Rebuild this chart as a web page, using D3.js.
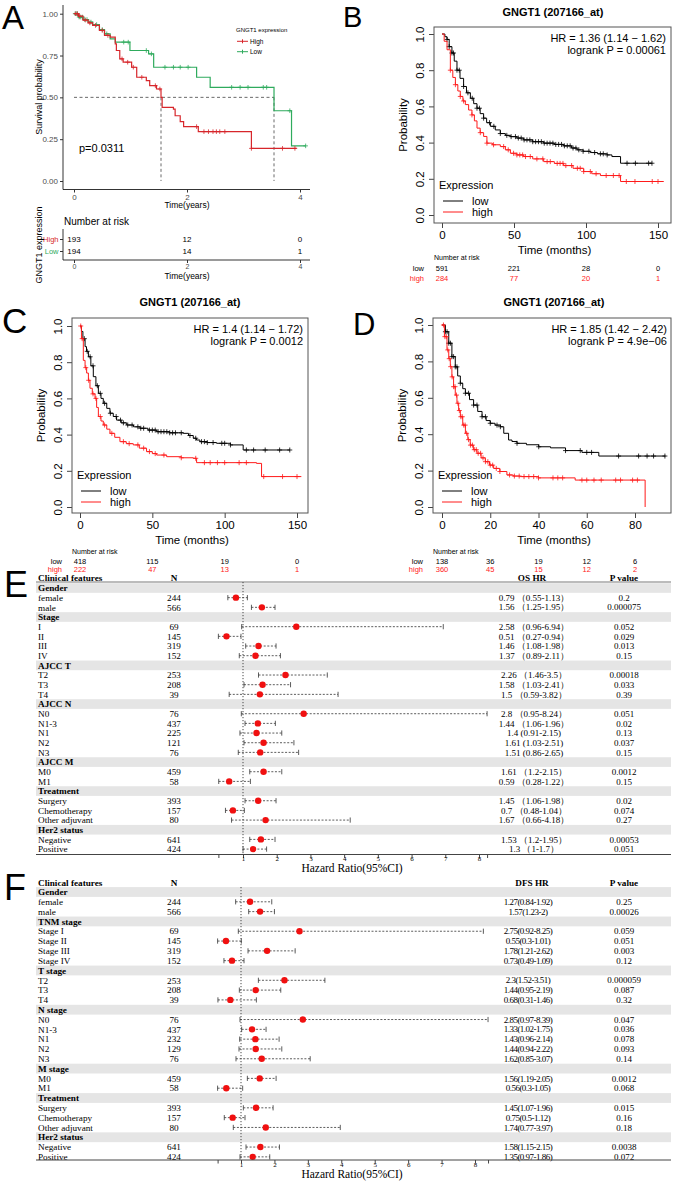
<!DOCTYPE html>
<html><head><meta charset="utf-8">
<script src="https://cdn.jsdelivr.net/npm/d3@7/dist/d3.min.js"></script>
<style>html,body{margin:0;padding:0;background:#fff;}svg{display:block;}</style>
</head><body>
<svg id="chart" width="674" height="1181" xmlns="http://www.w3.org/2000/svg"></svg>
<script>
const SANS = "'Liberation Sans', Arial, Helvetica, sans-serif";
const SERIF = "'Liberation Serif', 'Times New Roman', Times, serif";

// ===== Panel A data (years) =====
const aTicksX = [0, 2, 4];
const aTicksY = [0, 0.25, 0.5, 0.75, 1];
const aHighTime = [0,0.08,0.16,0.25,0.33,0.45,0.54,0.64,0.73,0.75,0.81,0.87,1.02,1.11,1.28,1.34,1.46,1.54,1.56,1.76,1.79,1.88,1.94,2.2,3.14];
const aHighSurv = [1,0.985,0.962,0.945,0.93,0.9,0.87,0.86,0.82,0.78,0.73,0.71,0.68,0.62,0.60,0.57,0.55,0.50,0.44,0.43,0.39,0.355,0.325,0.295,0.195];
const aHighEnd = 3.94;
const aHighCens = [0.03,0.06,0.1,0.2,0.28,0.38,0.5,0.6,0.85,0.95,1.05,1.2,1.44,1.52,2.17,2.3,2.38,2.46,2.52,2.58,2.67,3.14,3.69,3.91];
const aLowTime = [0,0.08,0.16,0.25,0.33,0.45,0.54,0.64,0.73,0.99,1.32,1.41,2.17,2.41,3.54,3.85];
const aLowSurv = [1,0.98,0.965,0.95,0.935,0.905,0.88,0.85,0.83,0.78,0.76,0.68,0.62,0.56,0.42,0.21];
const aLowEnd = 4.1;
const aLowCens = [0.02,0.04,0.06,0.09,0.12,0.15,0.19,0.23,0.3,0.4,0.5,0.58,0.88,0.96,1.28,1.37,1.61,1.76,1.88,2.02,2.79,2.94,3.08,3.35,3.41,3.82,4.1];
const aMedian = [1.54, 3.54];
const aGroups = ["High", "Low"];
const aRiskHigh = [193, 12, 0];
const aRiskLow = [194, 14, 1];
const aPText = "p=0.0311";

// ===== Panel B data (months) =====
const bTicksX = [0, 50, 100, 150];
const bLowTime = [0,2,3.5,5,6.9,8.5,10.4,12.5,15,17,19.7,22,24.3,26.5,28.9,31,33.6,37,40.5,44,47.5,52,56.7,63,70.6,78,84.5,90,93.8,98,103,108,114.7,118,124];
const bLowSurv = [1,0.985,0.97,0.93,0.895,0.85,0.80,0.755,0.71,0.675,0.645,0.615,0.59,0.56,0.535,0.51,0.49,0.47,0.45,0.44,0.433,0.425,0.415,0.405,0.397,0.39,0.382,0.37,0.36,0.352,0.345,0.338,0.332,0.323,0.286];
const bLowEnd = 146;
const bLowCens = [3.5,5,6.9,8,10.4,12,15,18,21,24.3,26,28.9,33,36,40.5,45,48,51,53,55,57,59,61,63,65,67,69,71,73,75,77,79,81,83,85,87,89,91,93,95,98,102,106,110,112,114.7,128.5,134.3,143.5,145.8];
const bHighTime = [0,1.5,3.5,5.8,7.5,9.3,11,12.7,14.5,16.2,18.5,20.8,22.5,24.3,26.5,28.9,31.2,35,40.5,44,47.5,52,56.7,63,70.6,78,84.5,91,98.4,104,110,124];
const bHighSurv = [1,0.96,0.913,0.80,0.76,0.72,0.685,0.655,0.63,0.61,0.58,0.553,0.52,0.48,0.455,0.434,0.397,0.388,0.378,0.36,0.341,0.332,0.323,0.31,0.295,0.285,0.273,0.258,0.24,0.228,0.218,0.185];
const bHighEnd = 154;
const bHighCens = [5.8,9.3,12.7,15,20.8,26.6,31.2,35.8,42.8,46,49.7,52,54,56,58,61.3,65.9,70,73,75.2,80,82,84,86,90,94,96,98.4,103,107,114,119,123,128,134,146,150];
const bRiskLow = [591, 221, 28, 0];
const bRiskHigh = [284, 77, 20, 1];
const bStats = ["HR = 1.36 (1.14 \u2212 1.62)", "logrank P = 0.00061"];

// ===== Panel C data (months) =====
const cTicksX = [0, 50, 100, 150];
const cLowTime = [0,1,2,3.5,4.5,5.8,7.5,9.2,11,12.7,14.5,16.1,18.5,20.7,23,25.3,28.5,32.3,37,41.5,47,53,62,71.4,75,78.3,80.5,82.9,88,94.4,104,112.8];
const cLowSurv = [1,0.97,0.93,0.886,0.86,0.83,0.78,0.72,0.67,0.628,0.60,0.573,0.545,0.518,0.5,0.48,0.465,0.453,0.443,0.435,0.425,0.416,0.41,0.407,0.395,0.38,0.37,0.361,0.356,0.352,0.343,0.315];
const cLowEnd = 145;
const cLowCens = [3,5,7,9,12,14,17,21,25,28,30,33,36,40,42,44,48,50,52,54,56,58,60,62,64,66,70,76,80,84,86,88,92,98,100,104,115,120,128,138,145];
const cHighTime = [0,1,2.3,3.5,4.6,5.8,6.9,8.5,10.4,11.5,12.7,14.5,16.1,18.5,20.7,24,27.6,32,36.8,41,46,50,53,59.9,70,78.3,80.6,122,125.5];
const cHighSurv = [1,0.93,0.81,0.77,0.74,0.70,0.656,0.625,0.60,0.55,0.50,0.475,0.453,0.43,0.407,0.385,0.361,0.35,0.343,0.325,0.306,0.295,0.287,0.278,0.272,0.269,0.245,0.241,0.168];
const cHighEnd = 153;
const cHighCens = [0.5,1.5,4,6,9,11,14,17,22,30,34,40,44,48,52,58,70,80,86,90,95,100,110,115,127,140,150];
const cRiskLow = [418, 115, 19, 0];
const cRiskHigh = [222, 47, 13, 1];
const cStats = ["HR = 1.4 (1.14 \u2212 1.72)", "logrank P = 0.0012"];

// ===== Panel D data (months) =====
const dTicksX = [0, 20, 40, 60, 80];
const dLowTime = [0,1.4,2.8,4.1,5.5,6.5,7.6,8.6,9.7,11.4,13.1,14.8,16.6,18.3,20,22,24.2,25.6,27.6,29,31.1,35,40.1,45,51.2,58,65];
const dLowSurv = [1,0.963,0.90,0.826,0.77,0.72,0.68,0.65,0.625,0.59,0.56,0.525,0.496,0.475,0.46,0.45,0.441,0.405,0.368,0.36,0.35,0.342,0.331,0.325,0.31,0.30,0.28];
const dLowEnd = 92.6;
const dLowCens = [1.4,2.1,2.8,3.5,4.1,4.8,5.5,6.2,7.6,9.7,11,13.1,14.5,16.6,18,20,22.8,24.2,31.1,40.1,51.2,57.3,60,62,73.2,81.5,85,87.7,92.4];
const dHighTime = [0,1,2.07,2.8,3.45,4.1,4.8,5.5,6.2,6.9,7.6,8.6,9.7,10.7,11.7,13,14.5,16.2,17.96,19.7,21.4,24,26.9,29.5,32.4,40,55.2,84.2];
const dHighSurv = [1,0.936,0.863,0.815,0.771,0.715,0.661,0.615,0.57,0.53,0.496,0.45,0.405,0.37,0.34,0.315,0.295,0.27,0.249,0.23,0.212,0.195,0.176,0.17,0.167,0.16,0.148,0];
const dHighEnd = 84.2;
const dHighCens = [0.6,1.2,1.8,2.4,3,3.6,4.2,4.8,5.4,6,6.6,7.2,7.8,8.4,9,9.6,10.2,11,11.8,12.6,13.4,14.2,15,16,17,18,19,20,21,22.5,24,28,30,32,34,36,38,40,46,48,50,58,60,63,66,72,74,79,81];
const dRiskLow = [138, 36, 19, 12, 6];
const dRiskHigh = [360, 45, 15, 12, 2];
const dStats = ["HR = 1.85 (1.42 \u2212 2.42)", "logrank P = 4.9e\u221206"];

// ===== Panel E data (OS) =====
const eLabels = ["Gender","female","male","Stage","I","II","III","IV","AJCC T","T2","T3","T4","AJCC N","N0","N1-3","N1","N2","N3","AJCC M","M0","M1","Treatment","Surgery","Chemotherapy","Other adjuvant","Her2 status","Negative","Positive"];
const eN  = [null,244,566,null,69,145,319,152,null,253,208,39,null,76,437,225,121,76,null,459,58,null,393,157,80,null,641,424];
const eHR = [null,0.79,1.56,null,2.58,0.51,1.46,1.37,null,2.26,1.58,1.5,null,2.8,1.44,1.4,1.61,1.51,null,1.61,0.59,null,1.45,0.7,1.67,null,1.53,1.3];
const eLo = [null,0.55,1.25,null,0.96,0.27,1.08,0.89,null,1.46,1.03,0.59,null,0.95,1.06,0.91,1.03,0.86,null,1.2,0.28,null,1.06,0.48,0.66,null,1.2,1];
const eHi = [null,1.13,1.95,null,6.94,0.94,1.98,2.11,null,3.5,2.41,3.82,null,8.24,1.96,2.15,2.51,2.65,null,2.15,1.22,null,1.98,1.04,4.18,null,1.95,1.7];
const eP  = [null,"0.2","0.000075",null,"0.052","0.029","0.013","0.15",null,"0.00018","0.033","0.39",null,"0.051","0.02","0.13","0.037","0.15",null,"0.0012","0.15",null,"0.02","0.074","0.27",null,"0.00053","0.051"];
const eAsciiRows = ["N1","N2","N3"];
const eHeaders = ["Clinical features","N","OS HR","P value"];

// ===== Panel F data (DFS) =====
const fLabels = ["Gender","female","male","TNM stage","Stage I","Stage II","Stage III","Stage IV","T stage","T2","T3","T4","N stage","N0","N1-3","N1","N2","N3","M stage","M0","M1","Treatment","Surgery","Chemotherapy","Other adjuvant","Her2 status","Negative","Positive"];
const fN  = [null,244,566,null,69,145,319,152,null,253,208,39,null,76,437,232,129,76,null,459,58,null,393,157,80,null,641,424];
const fHR = [null,1.27,1.57,null,2.75,0.55,1.78,0.73,null,2.3,1.44,0.68,null,2.85,1.33,1.43,1.44,1.62,null,1.56,0.56,null,1.45,0.75,1.74,null,1.58,1.35];
const fLo = [null,0.84,1.23,null,0.92,0.3,1.21,0.49,null,1.52,0.95,0.31,null,0.97,1.02,0.96,0.94,0.85,null,1.19,0.3,null,1.07,0.5,0.77,null,1.15,0.97];
const fHi = [null,1.92,2,null,8.25,1.01,2.62,1.09,null,3.51,2.19,1.46,null,8.39,1.75,2.14,2.22,3.07,null,2.05,1.05,null,1.96,1.12,3.97,null,2.15,1.86];
const fP  = [null,"0.25","0.00026",null,"0.059","0.051","0.003","0.12",null,"0.000059","0.087","0.32",null,"0.047","0.036","0.078","0.093","0.14",null,"0.0012","0.068",null,"0.015","0.16","0.18",null,"0.0038","0.072"];
const fHeaders = ["Clinical features","N","DFS HR","P value"];
const forestTicks = [1,2,3,4,5,6,7,8];

// ================= helpers =================
const svg = d3.select("#chart");
svg.append("rect").attr("width",674).attr("height",1181).attr("fill","#fff");

function text(g, x, y, s, o = {}) {
  return g.append("text").attr("x", x).attr("y", y).text(s)
    .attr("font-family", o.ff || SANS).attr("font-size", o.fs || 10)
    .attr("font-weight", o.fw || "normal").attr("fill", o.fill || "#000")
    .attr("text-anchor", o.anchor || "start")
    .attr("dy", o.dy === undefined ? "0.35em" : o.dy)
    .attr("letter-spacing", o.ls || null);
}
function stepPts(times, surv, end) {
  const p = times.map((t, i) => [t, surv[i]]);
  p.push([end, surv[surv.length - 1]]);
  return p;
}
function survAt(times, surv, t) {
  let s = surv[0];
  for (let i = 0; i < times.length; i++) if (times[i] <= t) s = surv[i];
  return s;
}
function drawCurve(g, x, y, times, surv, end, cens, color, lw, ms) {
  const line = d3.line().x(d => x(d[0])).y(d => y(d[1])).curve(d3.curveStepAfter);
  g.append("path").attr("d", line(stepPts(times, surv, end))).attr("fill", "none")
    .attr("stroke", color).attr("stroke-width", lw);
  g.append("path").attr("d", cens.map(t => {
      const cx = x(t), cy = y(survAt(times, surv, t));
      return `M${cx - ms},${cy}H${cx + ms}M${cx},${cy - ms}V${cy + ms}`;
    }).join("")).attr("stroke", color).attr("stroke-width", 0.8).attr("fill", "none");
}

// ================= Panel A =================
(function () {
  const RED = "#d7262b", GREEN = "#2fab5d";
  const g = svg.append("g");
  text(g, 2, 29, "A", { fs: 33, dy: 0 });
  const x = d3.scaleLinear().domain([0, 4]).range([74, 300]);
  const y = d3.scaleLinear().domain([0, 1]).range([181, 13.7]);

  const gy = g.append("g").attr("transform", "translate(63,0)")
    .call(d3.axisLeft(y).tickValues(aTicksY).tickFormat(d3.format(".2f")).tickSize(3).tickPadding(2));
  gy.select(".domain").attr("d", "M0,5V189.5").attr("stroke", "#000").attr("stroke-width", 0.8);
  gy.selectAll(".tick line").attr("stroke", "#333");
  gy.selectAll(".tick text").attr("font-size", 8).attr("fill", "#4d4d4d").attr("font-family", SANS);

  const gx = g.append("g").attr("transform", "translate(0,189.5)")
    .call(d3.axisBottom(x).tickValues(aTicksX).tickFormat(d3.format("d")).tickSize(3).tickPadding(1.5));
  gx.select(".domain").attr("d", "M63,0H310").attr("stroke", "#000").attr("stroke-width", 0.8);
  gx.selectAll(".tick line").attr("stroke", "#333");
  gx.selectAll(".tick text").attr("font-size", 8).attr("fill", "#4d4d4d").attr("font-family", SANS);

  text(g, 187, 205, "Time(years)", { fs: 8.5, anchor: "middle" });
  g.append("text").attr("transform", "translate(39,97) rotate(-90)").attr("text-anchor", "middle")
    .attr("dy", "0.35em").attr("font-family", SANS).attr("font-size", 9).text("Survival probability");

  // median lines
  const dash = g.append("g").attr("stroke", "#444").attr("stroke-width", 0.8).attr("stroke-dasharray", "3,2.5").attr("fill", "none");
  dash.append("path").attr("d", `M${x(0)},${y(0.5)}H${x(d3.max(aMedian))}`);
  aMedian.forEach(m => dash.append("path").attr("d", `M${x(m)},${y(0.5)}V${y(0)}`));

  drawCurve(g, x, y, aLowTime, aLowSurv, aLowEnd, aLowCens, GREEN, 1.2, 2.3);
  drawCurve(g, x, y, aHighTime, aHighSurv, aHighEnd, aHighCens, RED, 1.2, 2.3);

  text(g, 79, 148, aPText, { fs: 11 });

  // legend
  text(g, 236, 29.5, "GNGT1 expression", { fs: 6 });
  [[aGroups[0], RED, 41.3], [aGroups[1], GREEN, 51.7]].forEach(([lab, col, ly]) => {
    g.append("path").attr("d", `M237,${ly}H248M242.5,${ly - 2}V${ly + 2}`).attr("stroke", col).attr("stroke-width", 1);
    text(g, 250, ly, lab, { fs: 6.5 });
  });

  // risk table
  text(g, 64, 221, "Number at risk", { fs: 10 });
  const ry = d3.scalePoint().domain(aGroups).range([239, 251]);
  const rcol = { High: RED, Low: GREEN };
  const rg = g.append("g").attr("transform", "translate(63,0)").call(d3.axisLeft(ry).tickSize(3).tickPadding(1.5));
  rg.select(".domain").attr("d", "M0,229V260").attr("stroke", "#000").attr("stroke-width", 0.8);
  rg.selectAll(".tick line").attr("stroke", "#333");
  rg.selectAll(".tick text").attr("font-size", 7.5).attr("font-family", SANS).attr("fill", d => rcol[d]);
  [[aRiskHigh, "High"], [aRiskLow, "Low"]].forEach(([vals, key]) => {
    vals.forEach((v, i) => text(g, x(aTicksX[i]), ry(key), v, { fs: 8, anchor: "middle" }));
  });
  const rx = g.append("g").attr("transform", "translate(0,260)")
    .call(d3.axisBottom(x).tickValues(aTicksX).tickFormat(d3.format("d")).tickSize(3).tickPadding(1));
  rx.select(".domain").attr("d", "M63,0H310").attr("stroke", "#000").attr("stroke-width", 0.8);
  rx.selectAll(".tick line").attr("stroke", "#333");
  rx.selectAll(".tick text").attr("font-size", 7).attr("fill", "#4d4d4d").attr("font-family", SANS);
  text(g, 187, 276, "Time(years)", { fs: 8.5, anchor: "middle" });
  g.append("text").attr("transform", "translate(39,245) rotate(-90)").attr("text-anchor", "middle")
    .attr("dy", "0.35em").attr("font-family", SANS).attr("font-size", 9).text("GNGT1 expression");
})();

// ================= Panels B, C, D =================
function rKM(o) {
  const g = svg.append("g");
  text(g, o.lx, o.ly, o.letter, { fs: o.lfs, dy: 0 });
  text(g, o.tx, o.ty, "GNGT1 (207166_at)", { fs: 11, fw: "bold", anchor: "middle" });
  const x = d3.scaleLinear().domain(o.xd).range(o.xr);
  const y = d3.scaleLinear().domain([0, 1]).range(o.yr);
  const [bx0, by0, bx1, by1] = o.box;

  const gx = g.append("g").attr("transform", `translate(0,${by1})`)
    .call(d3.axisBottom(x).tickValues(o.xticks).tickFormat(d3.format("d")).tickSize(5).tickPadding(3));
  gx.select(".domain").remove();
  gx.selectAll(".tick line").attr("stroke", "#444");
  gx.selectAll(".tick text").attr("font-size", 11.5).attr("font-family", SANS).attr("fill", "#000");

  const gy = g.append("g").attr("transform", `translate(${bx0},0)`)
    .call(d3.axisLeft(y).tickValues([0, 0.2, 0.4, 0.6, 0.8, 1]).tickFormat(d3.format(".1f")).tickSize(5));
  gy.select(".domain").remove();
  gy.selectAll(".tick line").attr("stroke", "#444");
  gy.selectAll(".tick text").attr("font-size", 11.5).attr("font-family", SANS).attr("fill", "#000")
    .attr("transform", "rotate(-90)").attr("x", 0).attr("y", -10.5).attr("dy", 0).attr("text-anchor", "middle");

  text(g, (bx0 + bx1) / 2 + 2, by1 + 27, "Time (months)", { fs: 11.5, anchor: "middle" });
  g.append("text").attr("transform", `translate(${bx0 - 31},${(by0 + by1) / 2}) rotate(-90)`)
    .attr("text-anchor", "middle").attr("dy", "0.35em").attr("font-family", SANS).attr("font-size", 11.5).text("Probability");

  drawCurve(g, x, y, o.lowT, o.lowS, o.lowE, o.lowC, "#000", 1, 2.5);
  drawCurve(g, x, y, o.highT, o.highS, o.highE, o.highC, "#ff1a1a", 1, 2.5);

  g.append("rect").attr("x", bx0).attr("y", by0).attr("width", bx1 - bx0).attr("height", by1 - by0)
    .attr("fill", "none").attr("stroke", "#555").attr("stroke-width", 1);

  text(g, o.hrx, by0 + 11, o.stats[0], { fs: 11, anchor: "end" });
  text(g, o.hrx, by0 + 23.5, o.stats[1], { fs: 11, anchor: "end" });

  // legend
  text(g, bx0 + 5, by1 - 37.5, "Expression", { fs: 11 });
  [["low", "#000", by1 - 22], ["high", "#ff1a1a", by1 - 11]].forEach(([lab, col, ly]) => {
    g.append("line").attr("x1", bx0 + 9).attr("x2", bx0 + 29).attr("y1", ly).attr("y2", ly).attr("stroke", col).attr("stroke-width", 1);
    text(g, bx0 + 38, ly, lab, { fs: 11 });
  });

  // number at risk
  text(g, bx0, o.riskY[0], "Number at risk", { fs: 7 });
  text(g, o.riskLabX, o.riskY[1], "low", { fs: 7.5, anchor: "end" });
  text(g, o.riskLabX, o.riskY[2], "high", { fs: 7.5, anchor: "end", fill: "#ff1a1a" });
  o.riskLow.forEach((v, i) => text(g, x(o.xticks[i]), o.riskY[1], v, { fs: 7.5, anchor: "middle" }));
  o.riskHigh.forEach((v, i) => text(g, x(o.xticks[i]), o.riskY[2], v, { fs: 7.5, anchor: "middle", fill: "#ff1a1a" }));
}

rKM({ letter: "B", lx: 343, ly: 27, lfs: 29, tx: 553, ty: 12, box: [434, 27, 671, 223],
  xd: [0, 150], xr: [442, 658], yr: [215, 34], xticks: bTicksX, hrx: 666,
  lowT: bLowTime, lowS: bLowSurv, lowE: bLowEnd, lowC: bLowCens,
  highT: bHighTime, highS: bHighSurv, highE: bHighEnd, highC: bHighCens,
  stats: bStats, riskY: [257.5, 268.5, 278], riskLabX: 424, riskLow: bRiskLow, riskHigh: bRiskHigh });

rKM({ letter: "C", lx: 2, ly: 333, lfs: 35, tx: 190, ty: 302, box: [72, 318, 308, 513],
  xd: [0, 150], xr: [80, 297], yr: [507, 326], xticks: cTicksX, hrx: 303,
  lowT: cLowTime, lowS: cLowSurv, lowE: cLowEnd, lowC: cLowCens,
  highT: cHighTime, highS: cHighSurv, highE: cHighEnd, highC: cHighCens,
  stats: cStats, riskY: [552, 561, 569.5], riskLabX: 62, riskLow: cRiskLow, riskHigh: cRiskHigh });

rKM({ letter: "D", lx: 353, ly: 335, lfs: 31, tx: 554, ty: 302, box: [433, 318, 671, 513],
  xd: [0, 80], xr: [442, 635], yr: [507, 325], xticks: dTicksX, hrx: 667,
  lowT: dLowTime, lowS: dLowSurv, lowE: dLowEnd, lowC: dLowCens,
  highT: dHighTime, highS: dHighSurv, highE: dHighEnd, highC: dHighCens,
  stats: dStats, riskY: [552, 561, 569.5], riskLabX: 423, riskLow: dRiskLow, riskHigh: dRiskHigh });

// ================= Forest plots =================
function forest(o) {
  const g = svg.append("g");
  text(g, 4, o.letterY, o.letter, { fs: 36, dy: 0 });
  const x = d3.scaleLinear().domain([1, 8]).range(o.xr);
  const rowY = i => o.y0 + i * o.dy;
  o.labels.forEach((lab, i) => {
    if (o.N[i] === null) g.append("rect").attr("x", 36).attr("y", rowY(i) - o.dy / 2).attr("width", 635)
      .attr("height", o.dy).attr("fill", "#e5e5e5");
  });
  if (o.headerLine) g.append("line").attr("x1", 36).attr("x2", 671).attr("y1", o.hy + 4).attr("y2", o.hy + 4)
    .attr("stroke", "#555").attr("stroke-width", 0.8);
  const hf = { ff: SERIF, fs: 9.2, fw: "bold" };
  text(g, 38, o.hy, o.headers[0], hf);
  text(g, 174, o.hy, o.headers[1], Object.assign({ anchor: "middle" }, hf));
  text(g, 532, o.hy, o.headers[2], Object.assign({ anchor: "middle" }, hf));
  text(g, 624, o.hy, o.headers[3], Object.assign({ anchor: "middle" }, hf));

  // reference line at HR = 1
  g.append("line").attr("x1", x(1)).attr("x2", x(1)).attr("y1", o.refTop).attr("y2", o.axisY)
    .attr("stroke", "#333").attr("stroke-width", 0.9).attr("stroke-dasharray", "1.2,1.8");

  const allLo = o.lo.filter(v => v !== null), allHi = o.hi.filter(v => v !== null);
  o.labels.forEach((lab, i) => {
    const yy = rowY(i);
    const grp = o.N[i] === null;
    text(g, 38, yy, lab, { ff: SERIF, fs: 9.2, fw: grp ? "bold" : "normal" });
    if (grp) return;
    text(g, 174, yy, o.N[i], { ff: SERIF, fs: 9.2, anchor: "middle" });
    text(g, o.hrX, yy, o.hrText(i), { ff: SERIF, fs: 9, anchor: "middle", ls: o.hrLs });
    text(g, 624, yy, o.P[i], { ff: SERIF, fs: 9, anchor: "middle" });
    const x0 = x(o.lo[i]), x1 = x(o.hi[i]);
    g.append("line").attr("x1", x0).attr("x2", x1).attr("y1", yy).attr("y2", yy)
      .attr("stroke", "#333").attr("stroke-width", 0.8).attr("stroke-dasharray", "2,1.6");
    g.append("path").attr("d", `M${x0},${yy - 2.6}V${yy + 2.6}M${x1},${yy - 2.6}V${yy + 2.6}`)
      .attr("stroke", "#333").attr("stroke-width", 0.8);
    g.append("circle").attr("cx", x(o.hr[i])).attr("cy", yy).attr("r", 3.2).attr("fill", "#f01010");
  });

  // axis
  g.append("line").attr("x1", 36).attr("x2", 671).attr("y1", o.axisY).attr("y2", o.axisY)
    .attr("stroke", "#444").attr("stroke-width", 1);
  const ticks = [d3.min(allLo)].concat(forestTicks, [d3.max(allHi)]);
  const ga = g.append("g").attr("transform", `translate(0,${o.axisY})`)
    .call(d3.axisBottom(x).tickValues(ticks).tickFormat(d => Number.isInteger(d) ? d : "").tickSize(3.5).tickPadding(-1.5));
  ga.select(".domain").remove();
  ga.selectAll(".tick line").attr("stroke", "#444");
  ga.selectAll(".tick text").attr("font-size", 7).attr("font-family", SERIF).attr("fill", "#000");
  text(g, 352, o.axisY + 13.5, "Hazard Ratio(95%CI)", { ff: SERIF, fs: 11.5, anchor: "middle" });
}

forest({ letter: "E", letterY: 597, labels: eLabels, N: eN, hr: eHR, lo: eLo, hi: eHi, P: eP,
  headers: eHeaders, hy: 578, y0: 588, dy: 9.67, xr: [243, 479], refTop: 582, axisY: 854.5,
  headerLine: true, hrX: 534, hrLs: null,
  hrText: i => eAsciiRows.includes(eLabels[i]) ? `${eHR[i]} (${eLo[i]}-${eHi[i]})` : `${eHR[i]} \uFF08${eLo[i]}-${eHi[i]}\uFF09` });

forest({ letter: "F", letterY: 900, labels: fLabels, N: fN, hr: fHR, lo: fLo, hi: fHi, P: fP,
  headers: fHeaders, hy: 883, y0: 892, dy: 9.81, xr: [241, 475], refTop: 887, axisY: 1160,
  headerLine: false, hrX: 528, hrLs: -0.5,
  hrText: i => `${fHR[i]}(${fLo[i]}-${fHi[i]})` });
</script>
</body></html>
